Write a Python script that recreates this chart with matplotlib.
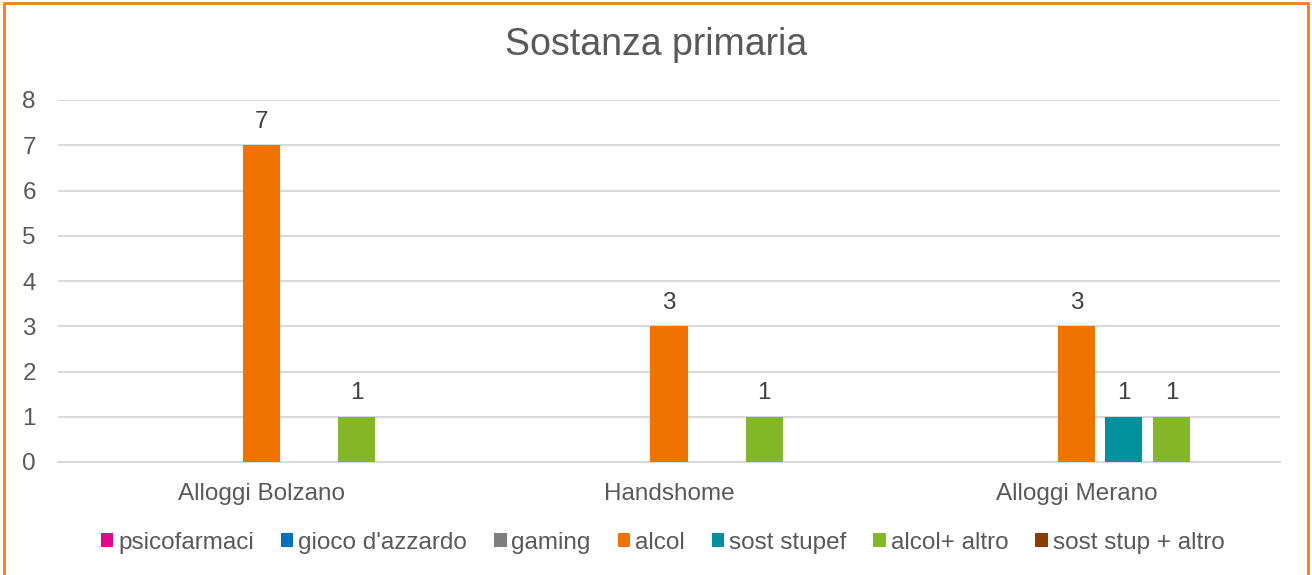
import numpy as np
import matplotlib.pyplot as plt
from matplotlib.patches import Rectangle

plt.rcParams['font.family'] = ['Liberation Sans', 'DejaVu Sans']

categories = ['Alloggi Bolzano', 'Handshome', 'Alloggi Merano']
series = ['psicofarmaci', "gioco d'azzardo", 'gaming', 'alcol',
          'sost stupef', 'alcol+ altro', 'sost stup + altro']
values = {
    'psicofarmaci':      [0, 0, 0],
    "gioco d'azzardo":   [0, 0, 0],
    'gaming':            [0, 0, 0],
    'alcol':             [7, 3, 3],
    'sost stupef':       [0, 0, 1],
    'alcol+ altro':      [1, 1, 1],
    'sost stup + altro': [0, 0, 0],
}
colors = ['#E0078C', '#0070C0', '#7F7F7F', '#F07300',
          '#00929C', '#83B728', '#8B3E00']
yticks = [0, 1, 2, 3, 4, 5, 6, 7, 8]

text_col = '#595959'
fs = 17.5

fig = plt.figure(figsize=(13.12, 5.75), dpi=100)
ax = fig.add_axes([58 / 1312, 113 / 575, 1222 / 1312, 362 / 575])

x = np.arange(len(categories))
slot = 0.1167
width = 0.091
for i, (name, col) in enumerate(zip(series, colors)):
    vals = values[name]
    bars = ax.bar(x + (i - 3) * slot, vals, width, color=col, label=name, zorder=3)
    ax.bar_label(bars, labels=[str(v) if v else '' for v in vals],
                 padding=9, fontsize=fs, color='#404040')

ax.set_xlim(-0.5, len(categories) - 0.5)
ax.set_ylim(0, 8)
ax.set_yticks(yticks)
ax.set_xticks(x)
ax.set_xticklabels(categories)
ax.yaxis.grid(True, color='#D9D9D9', linewidth=1.5, zorder=0)
ax.tick_params(axis='both', length=0, labelsize=fs, labelcolor=text_col)
ax.tick_params(axis='y', pad=16)
ax.tick_params(axis='x', pad=15)
for s in ['top', 'right', 'left']:
    ax.spines[s].set_visible(False)
ax.spines['bottom'].set_color('#D9D9D9')
ax.spines['bottom'].set_linewidth(1.5)

fig.text(0.5, 1 - 45 / 575, 'Sostanza primaria', ha='center', va='center',
         fontsize=27, color=text_col)

fig.legend(loc='center', bbox_to_anchor=(0.505, 1 - 543 / 575), ncol=7,
           frameon=False, fontsize=fs, handlelength=0.52, handleheight=0.52,
           handletextpad=0.2, columnspacing=1.1, labelcolor=text_col)

# orange frame round the chart
fig.patches.append(Rectangle((4, -5), 1304, 577, transform=None, fill=False,
                             edgecolor='#F07E16', linewidth=2))

fig.savefig('out.png', dpi=100)
